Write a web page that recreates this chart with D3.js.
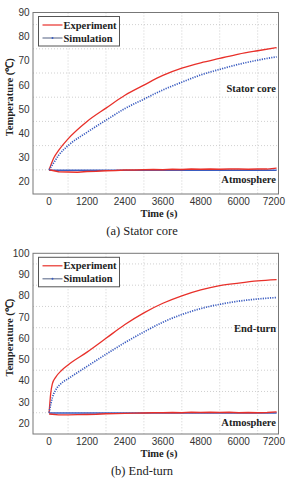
<!DOCTYPE html>
<html>
<head>
<meta charset="utf-8">
<script src="https://cdn.jsdelivr.net/npm/d3@7"></script>
<style>
  body { margin: 0; background: #fff; }
  svg { display: block; }
  .serif { font-family: 'Liberation Serif', 'Times New Roman', serif; }
  .sans { font-family: 'Liberation Sans', Arial, sans-serif; }
</style>
</head>
<body>
<div id="vis"></div>
<script>
// time samples (s)
var timeCore = [0, 150, 300, 600, 1200, 1800, 2400, 3000, 3600, 4200, 4800, 5400, 6000, 6600, 7200];
var coreExp = [25, 30, 33, 37.8, 45, 50.5, 55.8, 60, 64, 67, 69.2, 71, 72.8, 74.2, 75.5];
var coreSim = [25, 28, 31, 35, 40.5, 45.5, 50.3, 54.2, 58, 61.2, 64.2, 66.5, 68.6, 70.3, 71.7];

var timeEnd = [0, 50, 100, 200, 400, 600, 1200, 1800, 2400, 3000, 3600, 4200, 4800, 5400, 6000, 6600, 7200];
var endExp = [25, 34, 38.5, 41.5, 45, 47.5, 53.5, 60, 66.5, 72, 76.5, 80, 82.8, 84.8, 86, 87, 87.6];
var endSim = [25, 29, 32, 35.5, 39, 41, 46.8, 52.5, 58, 63, 67.6, 71.2, 74, 76, 77.5, 78.5, 79.2];

var timeAtm = [0, 300, 600, 900, 1200, 1500, 1800, 2100, 2400, 2700, 3000, 3300, 3600, 3900, 4200, 4500, 4800, 5100, 5400, 5700, 6000, 6300, 6600, 6900, 7200];
var atmExpCore = [25, 24.2, 24.1, 24.0, 24.3, 24.4, 24.6, 24.7, 24.9, 24.9, 25.0, 25.1, 25.0, 25.2, 25.1, 25.3, 25.2, 25.3, 25.2, 25.3, 25.3, 25.2, 25.3, 25.3, 25.7];
var atmSimCore = [24.8, 24.8, 24.8, 24.8, 24.8, 24.8, 24.8, 24.8, 24.8, 24.8, 24.8, 24.8, 24.8, 24.8, 24.8, 24.8, 24.8, 24.8, 24.8, 24.8, 24.8, 24.8, 24.8, 24.8, 24.8];
var atmExpEnd = [24.4, 24.0, 24.0, 24.1, 24.2, 24.3, 24.5, 24.6, 24.7, 24.8, 24.9, 25.0, 25.0, 25.1, 25.0, 25.2, 25.1, 25.2, 25.1, 25.2, 25.0, 25.1, 25.0, 25.1, 25.4];
var atmSimEnd = [24.9, 24.9, 24.9, 24.9, 24.9, 24.9, 24.9, 24.9, 24.9, 24.9, 24.9, 24.9, 24.9, 24.9, 24.9, 24.9, 24.9, 24.9, 24.9, 24.9, 24.9, 24.9, 24.9, 24.9, 24.9];

var xTicks = [0, 1200, 2400, 3600, 4800, 6000, 7200];
var xGrid = [600, 1800, 3000, 4200, 5400, 6600];
var yTicksCore = [20, 30, 40, 50, 60, 70, 80, 90];
var yGridCore = [25, 35, 45, 55, 65, 75, 85];
var yTicksEnd = [20, 30, 40, 50, 60, 70, 80, 90, 100];
var yGridEnd = [25, 35, 45, 55, 65, 75, 85, 95];

var legendNames = ['Experiment', 'Simulation'];
var expColor = '#e8302a', simColor = '#3a5cc0';

var svg = d3.select('#vis').append('svg')
  .attr('width', 286).attr('height', 478);

var panels = [
  { top: 12.5, bottom: 194, yMax: 90, yTicks: yTicksCore, yGrid: yGridCore, time: timeCore, exp: coreExp, sim: coreSim,
    atmExp: atmExpCore, atmSim: atmSimCore, label: 'Stator core', labelAt: 58.8, atmAt: 21.1, caption: '(a) Stator core' },
  { top: 253.3, bottom: 434, yMax: 100, yTicks: yTicksEnd, yGrid: yGridEnd, time: timeEnd, exp: endExp, sim: endSim,
    atmExp: atmExpEnd, atmSim: atmSimEnd, label: 'End-turn', labelAt: 64.7, atmAt: 20.6, caption: '(b) End-turn' }
];

panels.forEach(function(p) {
  var left = 33, right = 278.5;
  var x = d3.scaleLinear().domain([-510, 7260]).range([left, right]);
  var y = d3.scaleLinear().domain([15, p.yMax]).range([p.bottom, p.top]);
  var g = svg.append('g');

  // grid (between the labelled values)
  g.selectAll('.hg').data(p.yGrid).enter().append('line')
    .attr('x1', left).attr('x2', right)
    .attr('y1', function(d) { return y(d); }).attr('y2', function(d) { return y(d); })
    .attr('stroke', '#c4c4c4').attr('stroke-width', 0.8).attr('stroke-dasharray', '1,2');
  g.selectAll('.vg').data(xGrid).enter().append('line')
    .attr('x1', function(d) { return x(d); }).attr('x2', function(d) { return x(d); })
    .attr('y1', p.top).attr('y2', p.bottom)
    .attr('stroke', '#c4c4c4').attr('stroke-width', 0.8).attr('stroke-dasharray', '1,2');

  // box
  g.append('rect').attr('x', left).attr('y', p.top)
    .attr('width', right - left).attr('height', p.bottom - p.top)
    .attr('fill', 'none').attr('stroke', '#777').attr('stroke-width', 1);

  // tick labels
  g.selectAll('.yt').data(p.yTicks).enter().append('text').attr('class', 'sans')
    .attr('x', 29.5).attr('y', function(d) { return y(d); }).attr('dy', '0.35em')
    .attr('text-anchor', 'end').attr('font-size', 10).attr('fill', '#333')
    .text(function(d) { return d; });
  g.selectAll('.xt').data(xTicks).enter().append('text').attr('class', 'sans')
    .attr('y', p.bottom + 11).attr('text-anchor', 'middle')
    .attr('font-size', 10).attr('fill', '#333').text(function(d) { return d; })
    .attr('x', function(d) {
      var half = this.getComputedTextLength() / 2;
      return Math.min(x(d), 285 - half);
    });

  // axis titles
  g.append('text').attr('class', 'serif').attr('x', 159).attr('y', p.bottom + 23.3)
    .attr('text-anchor', 'middle').attr('font-weight', 'bold').attr('font-size', 10.5)
    .attr('fill', '#222').text('Time (s)');
  g.append('text').attr('class', 'serif')
    .attr('transform', 'translate(9,' + ((p.top + p.bottom) / 2 - 6) + ') rotate(-90)')
    .attr('text-anchor', 'middle').attr('dy', '0.35em')
    .attr('font-weight', 'bold').attr('font-size', 10.5).attr('fill', '#222').text('Temperature (℃)');

  // caption
  g.append('text').attr('class', 'serif').attr('x', 142).attr('y', p.bottom + 41)
    .attr('text-anchor', 'middle').attr('font-size', 12.5).attr('fill', '#222').text(p.caption);

  // lines
  var line = d3.line().x(function(d) { return x(d[0]); }).y(function(d) { return y(d[1]); })
    .curve(d3.curveMonotoneX);
  var lineLin = d3.line().x(function(d) { return x(d[0]); }).y(function(d) { return y(d[1]); });

  g.append('path').datum(d3.zip(timeAtm, p.atmSim)).attr('d', lineLin)
    .attr('fill', 'none').attr('stroke', simColor).attr('stroke-width', 1.6);
  g.append('path').datum(d3.zip(timeAtm, p.atmExp)).attr('d', lineLin)
    .attr('fill', 'none').attr('stroke', expColor).attr('stroke-width', 1.4);
  g.append('path').datum(d3.zip(p.time, p.exp)).attr('d', line)
    .attr('fill', 'none').attr('stroke', expColor).attr('stroke-width', 1.3);
  g.append('path').datum(d3.zip(p.time, p.sim)).attr('d', line)
    .attr('fill', 'none').attr('stroke', simColor).attr('stroke-width', 1.7)
    .attr('stroke-dasharray', '1.2,1.2');

  // curve labels
  g.append('text').attr('class', 'serif').attr('x', 276).attr('y', y(p.labelAt)).attr('dy', '0.35em')
    .attr('text-anchor', 'end').attr('font-weight', 'bold').attr('font-size', 10.5)
    .attr('fill', '#222').text(p.label);
  g.append('text').attr('class', 'serif').attr('x', 276).attr('y', y(p.atmAt)).attr('dy', '0.35em')
    .attr('text-anchor', 'end').attr('font-weight', 'bold').attr('font-size', 10.5)
    .attr('fill', '#222').text('Atmosphere');

  // legend
  var lg = g.append('g').attr('transform', 'translate(38.5,' + (p.top + 4) + ')');
  lg.append('rect').attr('width', 81).attr('height', 29.5)
    .attr('fill', '#fff').attr('stroke', '#555').attr('stroke-width', 1);
  legendNames.forEach(function(name, i) {
    var yy = 8.5 + i * 13;
    lg.append('line').attr('x1', 4).attr('x2', 24).attr('y1', yy).attr('y2', yy)
      .attr('stroke', i === 0 ? expColor : '#6d7a96').attr('stroke-width', 1.2);
    if (i === 1) {
      lg.append('circle').attr('cx', 14).attr('cy', yy).attr('r', 1).attr('fill', simColor);
    }
    lg.append('text').attr('class', 'serif').attr('x', 25).attr('y', yy).attr('dy', '0.35em')
      .attr('font-weight', 'bold').attr('font-size', 10.5).attr('fill', '#222').text(name);
  });
});
</script>
</body>
</html>
